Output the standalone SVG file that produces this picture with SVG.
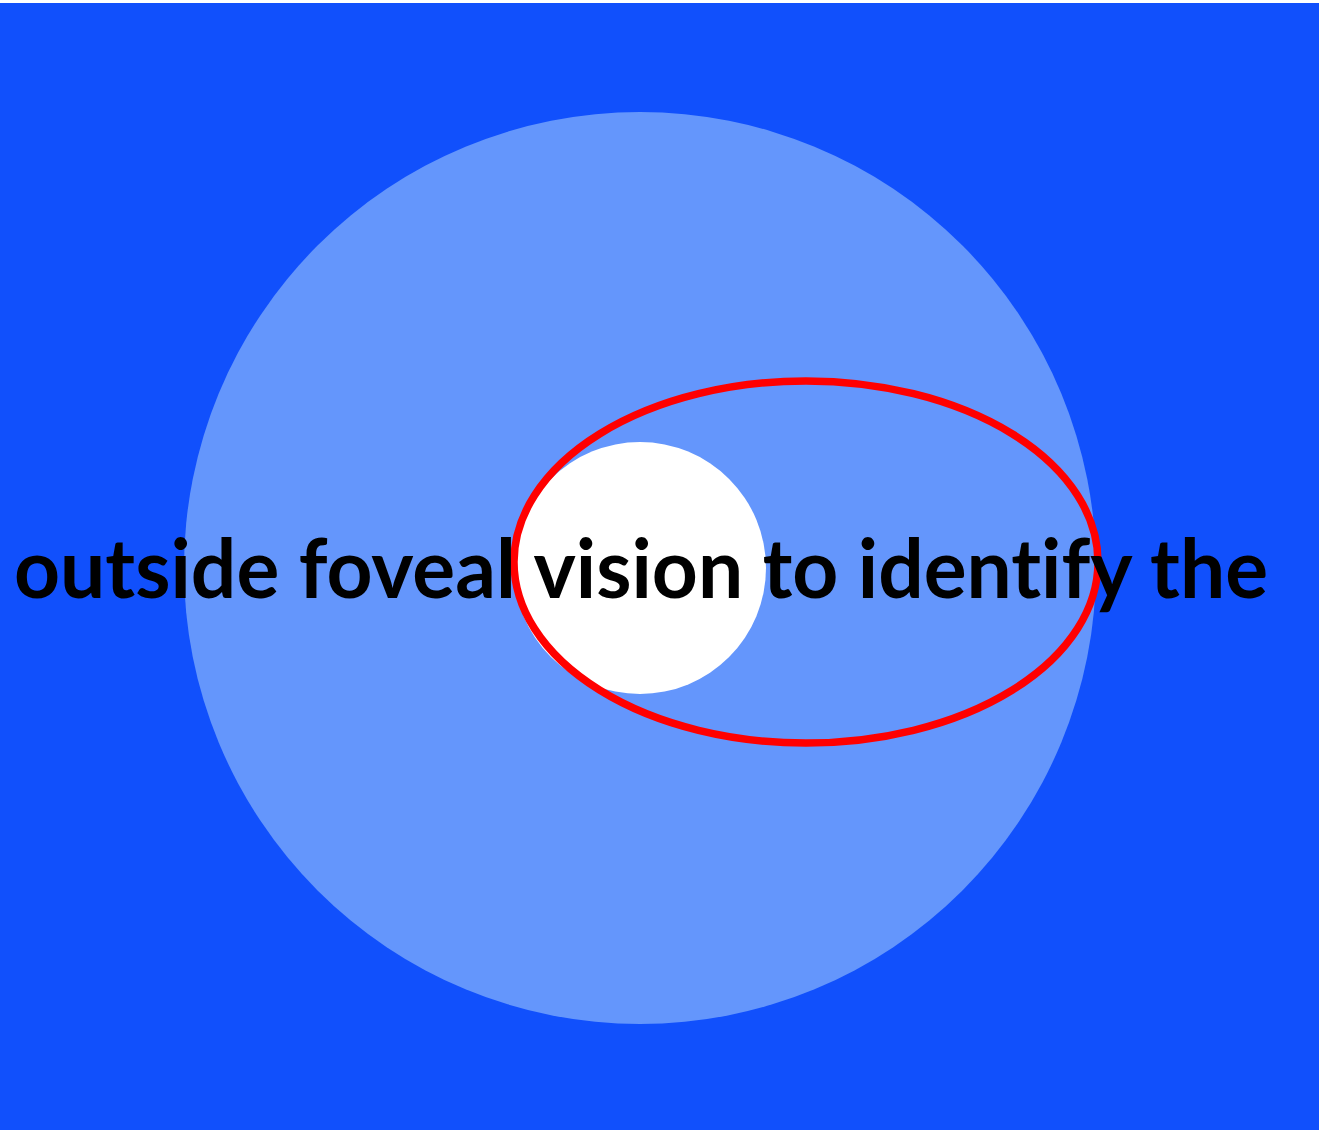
<svg xmlns="http://www.w3.org/2000/svg" width="1319" height="1130" viewBox="0 0 1319 1130">
<style>
.lbl{font-family:Lato,"Open Sans","Liberation Sans",sans-serif;font-weight:bold;font-size:82px;fill:#000;font-variant-ligatures:none;font-feature-settings:"liga" 0,"clig" 0}
</style>
<rect x="0" y="0" width="1319" height="1130" fill="#ffffff"/>
<rect x="0" y="3" width="1319" height="1127" fill="#1150FC"/>
<g id="periphery"><circle cx="640" cy="568" r="456" fill="#6496FC"/></g>
<g id="fovea"><circle cx="640" cy="568" r="126" fill="#ffffff"/></g>
<g id="focus"><ellipse cx="806" cy="562" rx="292" ry="181" fill="none" stroke="#FF0000" stroke-width="7.5"/></g>
<g id="caption"><text class="lbl" x="14" y="598" textLength="1254" lengthAdjust="spacingAndGlyphs">outside foveal vision to identify the</text></g>
</svg>
